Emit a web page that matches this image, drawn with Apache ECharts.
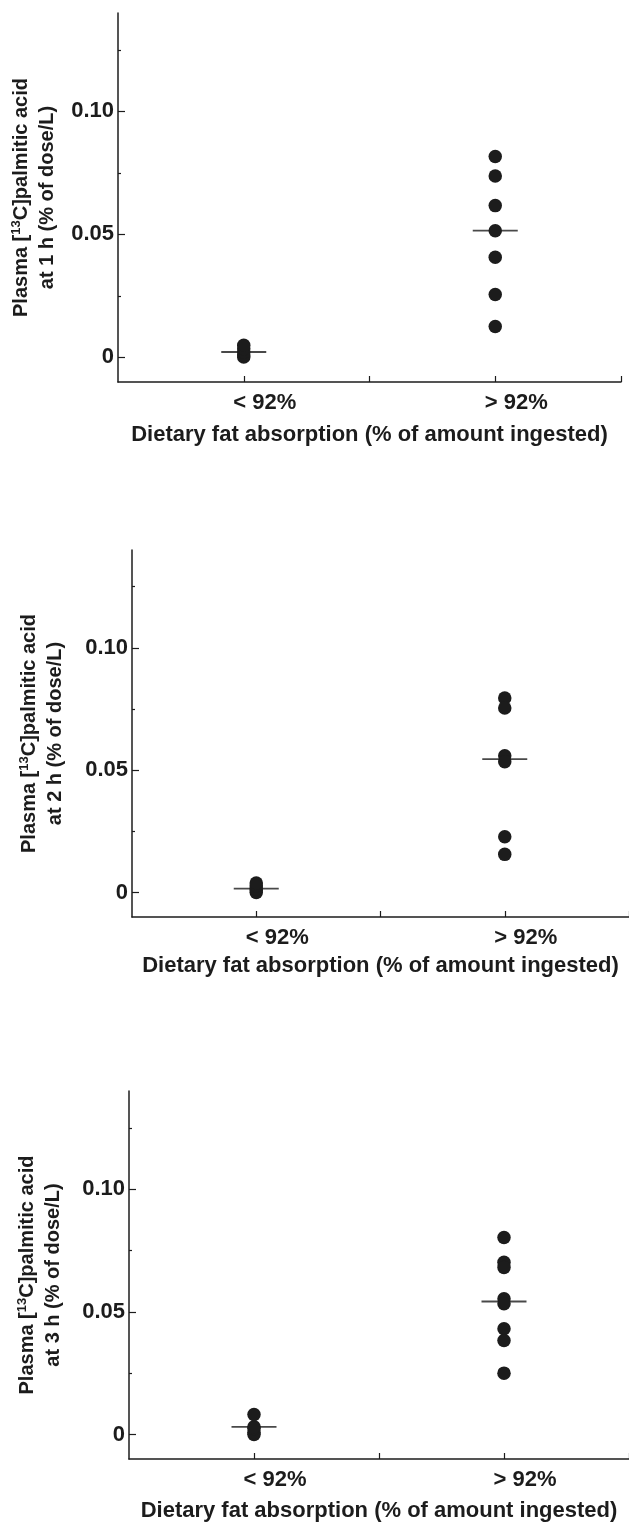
<!DOCTYPE html>
<html>
<head>
<meta charset="utf-8">
<script src="https://cdn.jsdelivr.net/npm/echarts@6/dist/echarts.min.js"></script>
<style>
html,body{margin:0;padding:0;background:#fff;}
#chart{width:629px;height:1529px;}
</style>
</head>
<body>
<div id="chart"></div>
<script>
// ---- data ----
const groups = ['< 92%', '> 92%'];
const hours = ['1', '2', '3'];
const yLabelValues = [0, 0.05, 0.10];
const yLabelTexts = ['0', '0.05', '0.10'];
const yMinorValues = [0.025, 0.075, 0.125];
const xTickValues = [1, 2, 3, 4];

const h1Low = [0.0002, 0.0010, 0.0022, 0.0035, 0.0049];
const h1High = [0.0817, 0.0737, 0.0617, 0.0515, 0.0407, 0.0256, 0.0126];
const h1Median = [0.0022, 0.0515];

const h2Low = [0.0000, 0.0010, 0.0016, 0.0028, 0.0039];
const h2High = [0.0795, 0.0754, 0.0559, 0.0535, 0.0228, 0.0156];
const h2Median = [0.0016, 0.0545];

const h3Low = [0.0000, 0.0008, 0.0024, 0.0031, 0.0081];
const h3High = [0.0803, 0.0702, 0.0681, 0.0553, 0.0533, 0.0431, 0.0383, 0.0250];
const h3Median = [0.0031, 0.0542];

// ---- layout ----
const FONT = "'Liberation Sans', Arial, sans-serif";
const INK = '#1c1c1c';
const panels = [
  {low: h1Low, high: h1High, med: h1Median, grid: {left: 118, top: 13, width: 503, height: 369}, nameGap: 54, xNameGap: 42},
  {low: h2Low, high: h2High, med: h2Median, grid: {left: 132, top: 550, width: 499, height: 367}, nameGap: 64, xNameGap: 38},
  {low: h3Low, high: h3High, med: h3Median, grid: {left: 129, top: 1091, width: 503, height: 368}, nameGap: 63, xNameGap: 41}
];

function groupX(i) { return 1 + 2 * i; }

const grid = [], xAxis = [], yAxis = [], series = [];
panels.forEach((p, k) => {
  grid.push(p.grid);
  xAxis.push({
    type: 'value', gridIndex: k, min: 0, max: 4,
    name: 'Dietary fat absorption (% of amount ingested)',
    nameLocation: 'middle', nameGap: p.xNameGap,
    nameTextStyle: {fontFamily: FONT, fontWeight: 'bold', fontSize: 22, color: INK},
    axisLine: {show: true, onZero: false, lineStyle: {color: INK, width: 1.5}},
    axisTick: {show: true, inside: true, length: 6, customValues: xTickValues, lineStyle: {color: INK, width: 1.2}},
    axisLabel: {
      show: true, customValues: groups.map((g, i) => groupX(i)),
      formatter: v => groups[Math.round((v - 1) / 2)],
      fontFamily: FONT, fontWeight: 'bold', fontSize: 22, color: INK,
      margin: 10, padding: [0, 0, 0, 42]
    },
    splitLine: {show: false}
  });
  yAxis.push({
    type: 'value', gridIndex: k, min: -0.01, max: 0.14,
    name: '{a|Plasma [}{s|13}{a|C]palmitic acid}\n{a|at ' + hours[k] + ' h (% of dose/L)}',
    nameLocation: 'middle', nameRotate: 90, nameGap: p.nameGap,
    nameTextStyle: {
      fontFamily: FONT, fontWeight: 'bold', fontSize: 20, color: INK, lineHeight: 26,
      rich: {
        a: {fontFamily: FONT, fontWeight: 'bold', fontSize: 20, color: INK, lineHeight: 26},
        s: {fontFamily: FONT, fontWeight: 'bold', fontSize: 13, color: INK, lineHeight: 26, padding: [0, 0, 10, 0]}
      }
    },
    axisLine: {show: true, onZero: false, lineStyle: {color: INK, width: 1.5}},
    axisTick: {show: true, inside: true, length: 7, customValues: yLabelValues, lineStyle: {color: INK, width: 1.2}},
    axisLabel: {
      show: true, customValues: yLabelValues,
      formatter: v => yLabelTexts[yLabelValues.findIndex(t => Math.abs(t - v) < 1e-9)],
      fontFamily: FONT, fontWeight: 'bold', fontSize: 22, color: INK, margin: 4
    },
    splitLine: {show: false}
  });
  // minor ticks axis (overlaid)
  yAxis.push({
    type: 'value', gridIndex: k, min: -0.01, max: 0.14, position: 'left',
    axisLine: {show: false, onZero: false},
    axisTick: {show: true, inside: true, length: 3, customValues: yMinorValues, lineStyle: {color: INK, width: 1.2}},
    axisLabel: {show: false},
    splitLine: {show: false}
  });
  const yIdx = k * 2;
  series.push({
    type: 'scatter', xAxisIndex: k, yAxisIndex: yIdx, silent: true,
    symbol: 'rect', symbolSize: [45, 1.8],
    itemStyle: {color: INK},
    data: p.med.map((v, i) => [groupX(i), v]),
    z: 2
  });
  series.push({
    type: 'scatter', xAxisIndex: k, yAxisIndex: yIdx, silent: true,
    symbol: 'circle', symbolSize: 13.5,
    itemStyle: {color: INK, opacity: 1},
    data: p.low.map(v => [groupX(0), v]).concat(p.high.map(v => [groupX(1), v])),
    z: 3
  });
});

const chart = echarts.init(document.getElementById('chart'), null, {renderer: 'canvas'});
chart.setOption({
  animation: false,
  backgroundColor: '#ffffff',
  grid, xAxis, yAxis, series
});
</script>
</body>
</html>
